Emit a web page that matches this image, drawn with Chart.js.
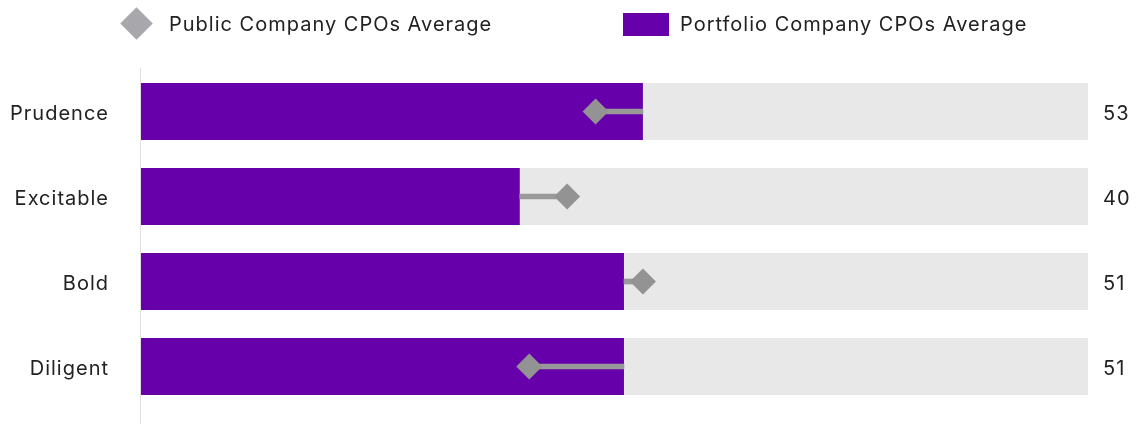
<!DOCTYPE html>
<html>
<head>
<meta charset="utf-8">
<script src="https://cdn.jsdelivr.net/npm/chart.js@4/dist/chart.umd.min.js"></script>
<style>
    body { margin: 0; background: #fff; font-family: Inter, 'Noto Sans', sans-serif; }
    #wrap { position: relative; width: 1140px; height: 424px; overflow: hidden; }
    #grafico { display: block; }
    #leyenda { position: absolute; top: 0; left: 0; width: 1140px; height: 50px; font-size: 20px; color: #222; letter-spacing: 1px; }
    .item { position: absolute; top: 11px; line-height: 26px; }
    .rombo { position: absolute; width: 23px; height: 23px; background: #a8a7ab; transform: rotate(45deg); }
    .cuadro { position: absolute; width: 46px; height: 23px; background: #6600aa; }
</style>
</head>
<body>
<div id="wrap">
    <canvas id="grafico" width="1140" height="424"></canvas>
    <div id="leyenda">
        <div class="rombo" style="left:125px; top:12px;"></div>
        <div class="item" style="left:169px;">Public Company CPOs Average</div>
        <div class="cuadro" style="left:623px; top:13px;"></div>
        <div class="item" style="left:680px;">Portfolio Company CPOs Average</div>
    </div>
</div>
<script>
let categorias = ['Prudence', 'Excitable', 'Bold', 'Diligent'];
let portafolio = [53, 40, 51, 51];
let publicas = [48, 45, 53, 41];
let maximo = [100, 100, 100, 100];

// linea que une el rombo con el final de la barra
let union = portafolio.map(function (v, i) {
    return [Math.min(v, publicas[i]), Math.max(v, publicas[i])];
});

let extras = {
    id: 'extras',
    beforeDraw: function (chart) {
        chart.ctx.letterSpacing = '1px';
    },
    afterDatasetsDraw: function (chart) {
        let c = chart.ctx;
        let area = chart.chartArea;
        let xs = chart.scales.x;
        c.save();
        c.strokeStyle = '#e0e0e0';
        c.lineWidth = 1;
        c.beginPath();
        c.moveTo(Math.round(xs.getPixelForValue(0)) - 0.5, area.top - 1);
        c.lineTo(Math.round(xs.getPixelForValue(0)) - 0.5, chart.height);
        c.stroke();

        c.fillStyle = '#222';
        c.font = '20px Inter, "Noto Sans", sans-serif';
        c.textBaseline = 'middle';
        c.textAlign = 'left';
        let barras = chart.getDatasetMeta(3).data;
        barras.forEach(function (b, i) {
            c.fillText(portafolio[i], area.right + 15, b.y + 2);
        });
        c.restore();
    }
};

let ctx = document.getElementById('grafico');
let myChart = new Chart(ctx, {
    type: 'bar',
    data: {
        labels: categorias,
        datasets: [{
            type: 'line',
            label: 'Public Company CPOs Average',
            data: publicas,
            indexAxis: 'y',
            showLine: false,
            pointStyle: 'rectRot',
            pointRadius: 13,
            pointHoverRadius: 13,
            backgroundColor: '#939393',
            borderWidth: 0,
            order: 0
        }, {
            label: 'union',
            data: union,
            backgroundColor: '#999999',
            barThickness: 5,
            grouped: false,
            order: 1
        }, {
            label: 'fondo',
            data: maximo,
            backgroundColor: '#e8e8e8',
            barPercentage: 0.67,
            categoryPercentage: 1,
            grouped: false,
            order: 3
        }, {
            label: 'Portfolio Company CPOs Average',
            data: portafolio,
            backgroundColor: '#6600aa',
            barPercentage: 0.67,
            categoryPercentage: 1,
            grouped: false,
            order: 2
        }]
    },
    options: {
        indexAxis: 'y',
        responsive: false,
        animation: false,
        layout: { autoPadding: false, padding: { top: 69, right: 52, bottom: 15, left: 0 } },
        scales: {
            x: { min: 0, max: 100, display: false },
            y: {
                grid: { display: false },
                border: { display: false },
                ticks: {
                    color: '#222',
                    padding: 24,
                    labelOffset: 2,
                    font: { family: 'Inter, "Noto Sans", sans-serif', size: 20 }
                },
                afterFit: function (scale) {
                    scale.width = 141;
                    scale.paddingTop = 0;
                    scale.paddingBottom = 0;
                }
            }
        },
        plugins: {
            legend: { display: false },
            tooltip: { enabled: false }
        }
    },
    plugins: [extras]
});
</script>
</body>
</html>
